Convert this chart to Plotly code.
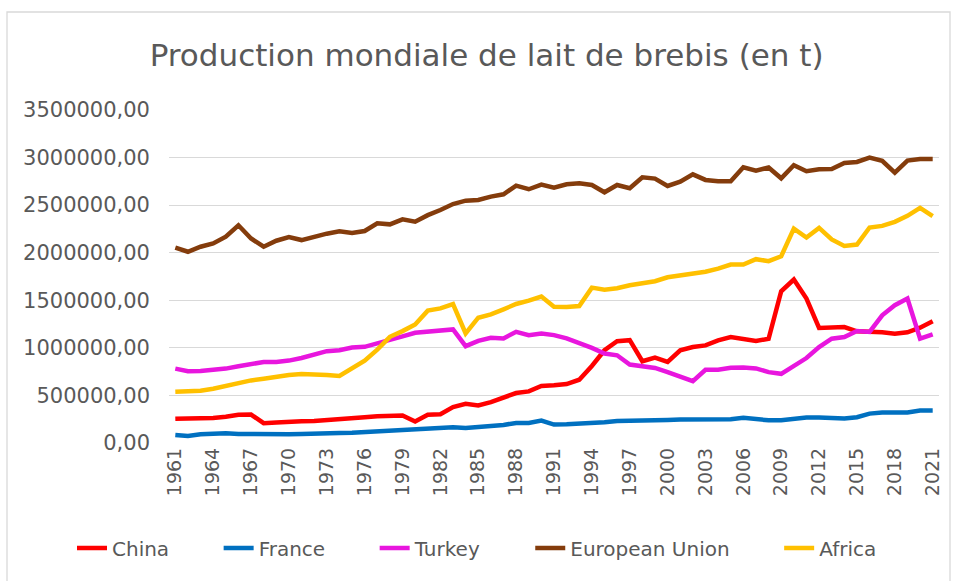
import plotly.graph_objects as go

years = list(range(1961, 2022))

china = [254000, 254000, 257000, 264000, 275000, 296000, 299000, 208000, 215000, 225000,
         229000, 232000, 239000, 250000, 261000, 271000, 282000, 285000, 289000, 225000,
         296000, 303000, 377000, 412000, 394000, 430000, 482000, 525000, 542000, 599000,
         606000, 620000, 665000, 810000, 975000, 1070000, 1081000, 859000, 898000, 852000,
         975000, 1009000, 1026000, 1079000, 1114000, 1093000, 1072000, 1096000, 1595000, 1718000,
         1518000, 1209000, 1212000, 1219000, 1174000, 1174000, 1163000, 1149000, 1163000, 1212000,
         1279000]

france = [85000, 74000, 92000, 99000, 102000, 95000, 92000, 92000, 92000, 92000,
          95000, 102000, 102000, 106000, 109000, 116000, 123000, 123000, 130000, 148000,
          155000, 158000, 165000, 158000, 169000, 176000, 190000, 211000, 211000, 236000,
          194000, 197000, 201000, 208000, 218000, 232000, 232000, 236000, 239000, 243000,
          246000, 246000, 253000, 253000, 249000, 264000, 249000, 239000, 239000, 253000,
          267000, 267000, 257000, 257000, 271000, 309000, 320000, 320000, 320000, 341000,
          341000]

turkey = [782000, 754000, 757000, 768000, 782000, 806000, 834000, 852000, 852000, 866000,
          894000, 933000, 965000, 975000, 1003000, 1011000, 1046000, 1074000, 1120000, 1158000,
          1169000, 1176000, 1194000, 1018000, 1074000, 1106000, 1099000, 1169000, 1134000, 1151000,
          1134000, 1099000, 1053000, 1000000, 940000, 922000, 824000, 810000, 789000, 746000,
          692000, 650000, 770000, 770000, 791000, 794000, 784000, 745000, 727000, 815000,
          893000, 1008000, 1096000, 1114000, 1177000, 1167000, 1342000, 1448000, 1518000, 1096000,
          1142000]

european_union = [2053000, 2010000, 2063000, 2098000, 2168000, 2288000, 2150000, 2063000, 2126000, 2165000,
                  2133000, 2172000, 2200000, 2225000, 2207000, 2228000, 2309000, 2298000, 2351000, 2326000,
                  2395000, 2449000, 2512000, 2547000, 2554000, 2590000, 2614000, 2705000, 2667000, 2716000,
                  2684000, 2719000, 2730000, 2712000, 2635000, 2712000, 2677000, 2793000, 2779000, 2702000,
                  2747000, 2824000, 2765000, 2751000, 2751000, 2898000, 2863000, 2895000, 2782000, 2919000,
                  2856000, 2877000, 2880000, 2944000, 2954000, 3000000, 2965000, 2842000, 2968000, 2986000,
                  2986000]

africa = [539000, 539000, 549000, 570000, 602000, 634000, 658000, 676000, 697000, 715000,
          725000, 722000, 715000, 704000, 782000, 866000, 982000, 1116000, 1176000, 1246000,
          1391000, 1415000, 1461000, 1151000, 1317000, 1352000, 1405000, 1461000, 1496000, 1539000,
          1433000, 1430000, 1440000, 1633000, 1612000, 1626000, 1658000, 1675000, 1700000, 1742000,
          1760000, 1788000, 1800000, 1833000, 1875000, 1875000, 1932000, 1911000, 1963000, 2254000,
          2160000, 2261000, 2139000, 2070000, 2086000, 2265000, 2282000, 2325000, 2388000, 2472000,
          2384000]

series_names = ["China", "France", "Turkey", "European Union", "Africa"]
series_values = [china, france, turkey, european_union, africa]
series_colors = ["#FF0000", "#0070C0", "#E816DE", "#843C0C", "#FFC000"]

tick_years = years[::3]

FONT = "DejaVu Sans"
GREY = "#595959"
PAD = "\u00a0" * 7  # spacing between legend entries

fig = go.Figure()
for k, (name, vals, color) in enumerate(zip(series_names, series_values, series_colors)):
    label = name + (PAD if k < len(series_names) - 1 else "")
    fig.add_trace(go.Scatter(x=years, y=vals, mode="lines", name=label,
                             line=dict(color=color, width=4.5)))

# plot area in pixels: x 169..939, y 110..443
L, R, T, B = 169, 939, 110, 443
W, H = R - L, B - T

def px_x(p):
    return (p - L) / W

def px_y(p):
    return (B - p) / H

fig.update_layout(
    width=956, height=581,
    margin=dict(l=L, r=956 - R, t=T, b=581 - B),
    paper_bgcolor="white", plot_bgcolor="white",
    separators=", ",
    font=dict(family=FONT, color=GREY, size=20),
    title=dict(text="Production mondiale de lait de brebis (en t)",
               x=0.509, xanchor="center", y=1 - 55 / 581, yanchor="middle",
               font=dict(family=FONT, size=31, color=GREY)),
    xaxis=dict(range=[1960.5, 2021.5], tickmode="array", tickvals=tick_years,
               ticktext=[str(y) for y in tick_years], tickangle=-90,
               showgrid=False, zeroline=False, showline=False, ticks="",
               tickfont=dict(family=FONT, size=19, color=GREY)),
    yaxis=dict(range=[0, 3500000], dtick=500000, tickformat=".2f",
               showgrid=True, gridcolor="#D9D9D9", gridwidth=1.3,
               zeroline=False, showline=False, ticks="", ticklen=0,
               ticklabelstandoff=18,
               tickfont=dict(family=FONT, size=21, color=GREY)),
    legend=dict(orientation="h", x=px_x(72), xanchor="left",
                y=px_y(548), yanchor="middle",
                font=dict(family=FONT, size=20, color=GREY),
                traceorder="normal"),
    showlegend=True,
)

fig.add_shape(type="rect", xref="paper", yref="paper",
              x0=px_x(7), x1=px_x(950), y0=px_y(600), y1=px_y(12),
              line=dict(color="#D9D9D9", width=1.3), fillcolor="rgba(0,0,0,0)",
              layer="below")

fig.write_html("out.html", config={"displayModeBar": False},
               post_script="document.body.style.margin='0';document.body.style.padding='0';")
